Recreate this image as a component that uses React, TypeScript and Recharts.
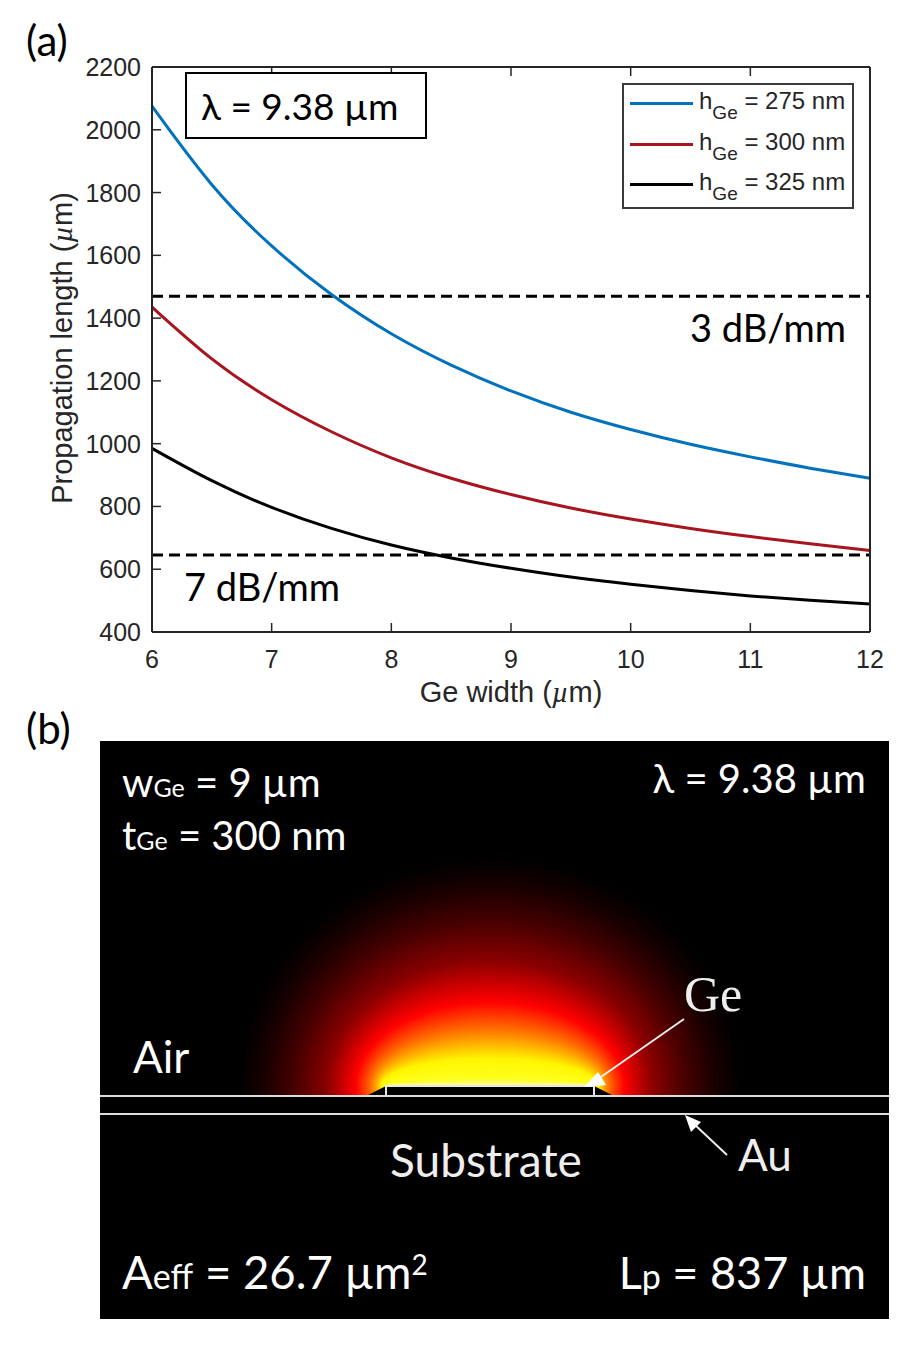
import React from 'react';
import { LineChart, Line, XAxis, YAxis, ReferenceLine, Legend } from 'recharts';

const widths = [6, 6.5, 7, 7.5, 8, 8.5, 9, 9.5, 10, 10.5, 11, 11.5, 12];
const h275 = [2075, 1825, 1630, 1475, 1350, 1250, 1168, 1100, 1045, 998, 958, 922, 890];
const h300 = [1435, 1270, 1140, 1038, 955, 890, 838, 795, 760, 730, 704, 681, 660];
const h325 = [985, 882, 797, 730, 677, 636, 603, 575, 552, 532, 515, 501, 489];
const xTicks = [6, 7, 8, 9, 10, 11, 12];
const yTicks = [400, 600, 800, 1000, 1200, 1400, 1600, 1800, 2000, 2200];
const limit3dB = 1470;
const limit7dB = 645;
const seriesNames = ['275 nm', '300 nm', '325 nm'];

const rows = widths.map((w, i) => ({ w, a: h275[i], b: h300[i], c: h325[i] }));

const SANS = '"Liberation Sans", Arial, sans-serif';
const CAL = 'Lato, "Open Sans", sans-serif';
const INK = '#262626';
const TICK = 9;

const BottomTick = (p: any) => (
  <g>
    <line x1={p.x} x2={p.x} y1={p.y} y2={p.y - TICK} stroke={INK} strokeWidth={1.5} />
    <text x={p.x} y={p.y + 36} textAnchor="middle" fontFamily={SANS} fontSize={25} fill={INK}>{p.payload.value}</text>
  </g>
);
const TopTick = (p: any) => <line x1={p.x} x2={p.x} y1={p.y} y2={p.y + TICK} stroke={INK} strokeWidth={1.5} />;
const LeftTick = (p: any) => (
  <g>
    <line x1={p.x} x2={p.x + TICK} y1={p.y} y2={p.y} stroke={INK} strokeWidth={1.5} />
    <text x={p.x - 11} y={p.y + 9} textAnchor="end" fontFamily={SANS} fontSize={25} fill={INK}>{p.payload.value}</text>
  </g>
);
const RightTick = (p: any) => <line x1={p.x} x2={p.x - TICK} y1={p.y} y2={p.y} stroke={INK} strokeWidth={1.5} />;

const LegendBox = ({ payload }: any) => (
  <div style={{ width: 232, height: 126, boxSizing: 'border-box', border: '2px solid #3a3a3a', background: '#fff', position: 'relative' }}>
    {(payload || []).map((e: any, i: number) => (
      <div key={e.value} style={{ position: 'absolute', left: 0, top: i * 40.5, width: 228, height: 40, fontFamily: SANS, color: INK }}>
        <div style={{ position: 'absolute', left: 6, top: 17, width: 63, height: 3, background: e.color }} />
        <div style={{ position: 'absolute', left: 75, top: 3, fontSize: 24, whiteSpace: 'nowrap', lineHeight: '26px' }}>
          h<span style={{ fontSize: 19, position: 'relative', top: 10 }}>Ge</span> = {e.value}
        </div>
      </div>
    ))}
  </div>
);

// colour ramp of the field map, by distance from the Ge strip
const ramp: [number, number[]][] = [
  [0, [255, 255, 170]], [8, [255, 255, 30]], [28, [255, 245, 0]], [58, [255, 110, 0]], [85, [255, 0, 0]],
  [125, [140, 0, 0]], [165, [72, 0, 0]], [200, [26, 0, 0]], [230, [0, 0, 0]],
];
const colorAt = (b: number) => {
  for (let i = 1; i < ramp.length; i++) {
    if (b <= ramp[i][0]) {
      const [b0, c0] = ramp[i - 1];
      const [b1, c1] = ramp[i];
      const t = (b - b0) / (b1 - b0);
      return `rgb(${c0.map((v, k) => Math.round(v + (c1[k] - v) * t)).join(',')})`;
    }
  }
  return '#000';
};
const FOCAL = 105;
const levels: number[] = [];
for (let b = 230; b >= 0; b -= 1) levels.push(b);

const T = (p: any) => <text fontFamily={CAL} fill="#fff" fontSize={40} {...p} />;

export default function App() {
  return (
    <div style={{ position: 'absolute', left: 0, top: 0, width: 908, height: 1346, background: '#fff', overflow: 'hidden' }}>
      <div style={{ position: 'absolute', left: 0, top: 0 }}>
        <LineChart width={908} height={720} data={rows} margin={{ left: 151, top: 66, right: 37, bottom: 87 }}>
          <XAxis dataKey="w" type="number" domain={[6, 12]} ticks={xTicks} height={1} tickSize={0} tickMargin={0} tickLine={false}
            stroke={INK} strokeWidth={2} tick={BottomTick} interval={0} />
          <XAxis xAxisId="top" orientation="top" dataKey="w" type="number" domain={[6, 12]} ticks={xTicks} height={1} tickSize={0} tickMargin={0} tickLine={false}
            stroke={INK} strokeWidth={2} tick={TopTick} interval={0} />
          <YAxis domain={[400, 2200]} ticks={yTicks} width={1} tickSize={0} tickMargin={0} tickLine={false}
            stroke={INK} strokeWidth={2} tick={LeftTick} interval={0} />
          <YAxis yAxisId="right" orientation="right" domain={[400, 2200]} ticks={yTicks} width={1} tickSize={0} tickMargin={0} tickLine={false}
            stroke={INK} strokeWidth={2} tick={RightTick} interval={0} />
          <ReferenceLine y={limit3dB} stroke="#000" strokeWidth={3} strokeDasharray="11 6" />
          <ReferenceLine y={limit7dB} stroke="#000" strokeWidth={3} strokeDasharray="11 6" />
          <Line dataKey="a" name={seriesNames[0]} type="natural" stroke="#0072BD" strokeWidth={3} dot={false} isAnimationActive={false} />
          <Line dataKey="b" name={seriesNames[1]} type="natural" stroke="#A8141F" strokeWidth={3} dot={false} isAnimationActive={false} />
          <Line dataKey="c" name={seriesNames[2]} type="natural" stroke="#000000" strokeWidth={3} dot={false} isAnimationActive={false} />
          <Legend layout="horizontal" verticalAlign="middle" align="center" content={LegendBox}
            wrapperStyle={{ position: 'absolute', left: 622, top: 83, width: 232, height: 126, bottom: 'auto', right: 'auto' }} />
        </LineChart>
      </div>

      <svg width={908} height={1346} style={{ position: 'absolute', left: 0, top: 0, pointerEvents: 'none' }}>
        <defs>
          <clipPath id="above"><rect x={100} y={741} width={789} height={355} /></clipPath>
        </defs>

        {/* panel (a) text */}
        <text x={26} y={56} fontFamily={CAL} fontSize={42} fill="#000">(a)</text>
        <rect x={186} y={73} width={240} height={65} fill="#fff" stroke="#000" strokeWidth={2} />
        <text x={201} y={120} fontFamily={CAL} fontSize={37} fill="#000">λ = 9.38 µm</text>
        <text x={690} y={342} fontFamily={CAL} fontSize={38} fill="#000">3 dB/mm</text>
        <text x={184} y={601} fontFamily={CAL} fontSize={38} fill="#000">7 dB/mm</text>
        <text transform="translate(72,348) rotate(-90)" textAnchor="middle" fontFamily={SANS} fontSize={29} fill={INK}>
          Propagation length (<tspan fontFamily='"Liberation Serif", serif' fontStyle="italic">µ</tspan>m)
        </text>
        <text x={511} y={702} textAnchor="middle" fontFamily={SANS} fontSize={29} fill={INK}>
          Ge width (<tspan fontFamily='"Liberation Serif", serif' fontStyle="italic">µ</tspan>m)
        </text>

        {/* panel (b) */}
        <text x={26} y={744} fontFamily={CAL} fontSize={42} fill="#000">(b)</text>
        <rect x={100} y={741} width={789} height={578} fill="#000" />
        <g clipPath="url(#above)">
          {levels.map((b) => (
            <ellipse key={b} cx={490} cy={1086} rx={Math.sqrt(b * b + FOCAL * FOCAL)} ry={b} fill={colorAt(b)} />
          ))}
          <polygon points="386,1086 366,1096 386,1096" fill="#000" />
          <polygon points="594,1086 614,1096 594,1096" fill="#000" />
          <rect x={386} y={1086} width={208} height={10} fill="#000" />
        </g>
        <path d="M386 1096 V1086 H594 V1096" fill="none" stroke="#e8e8e8" strokeWidth={2} />
        <line x1={100} x2={889} y1={1096} y2={1096} stroke="#ddd" strokeWidth={2} />
        <line x1={100} x2={889} y1={1114} y2={1114} stroke="#ddd" strokeWidth={2} />
        <line x1={684} y1={1019} x2={598} y2={1079} stroke="#eee" strokeWidth={2} />
        <polygon points="584,1087 598,1072 606,1085" fill="#fff" />
        <line x1={727} y1={1155} x2={694} y2={1124} stroke="#eee" strokeWidth={2} />
        <polygon points="685,1115 701,1122 691,1132" fill="#fff" />

        <T x={122} y={797}>w<tspan fontSize={25}>Ge</tspan> = 9 µm</T>
        <T x={122} y={850}>t<tspan fontSize={25}>Ge</tspan> = 300 nm</T>
        <T x={866} y={793} textAnchor="end">λ = 9.38 µm</T>
        <T x={133} y={1073} fontSize={44}>Air</T>
        <text x={684} y={1011} fontFamily='"Liberation Serif", serif' fontSize={50} fill="#eee">Ge</text>
        <T x={390} y={1177} fontSize={46} fill="#eee">Substrate</T>
        <T x={738} y={1171} fontSize={44} fill="#eee">Au</T>
        <T x={122} y={1289} fontSize={45.5}>A<tspan fontSize={34}>eff</tspan> = 26.7 µm<tspan fontSize={28} dy={-14}>2</tspan></T>
        <T x={866} y={1289} fontSize={45} textAnchor="end">L<tspan fontSize={34}>p</tspan> = 837 µm</T>
      </svg>
    </div>
  );
}
